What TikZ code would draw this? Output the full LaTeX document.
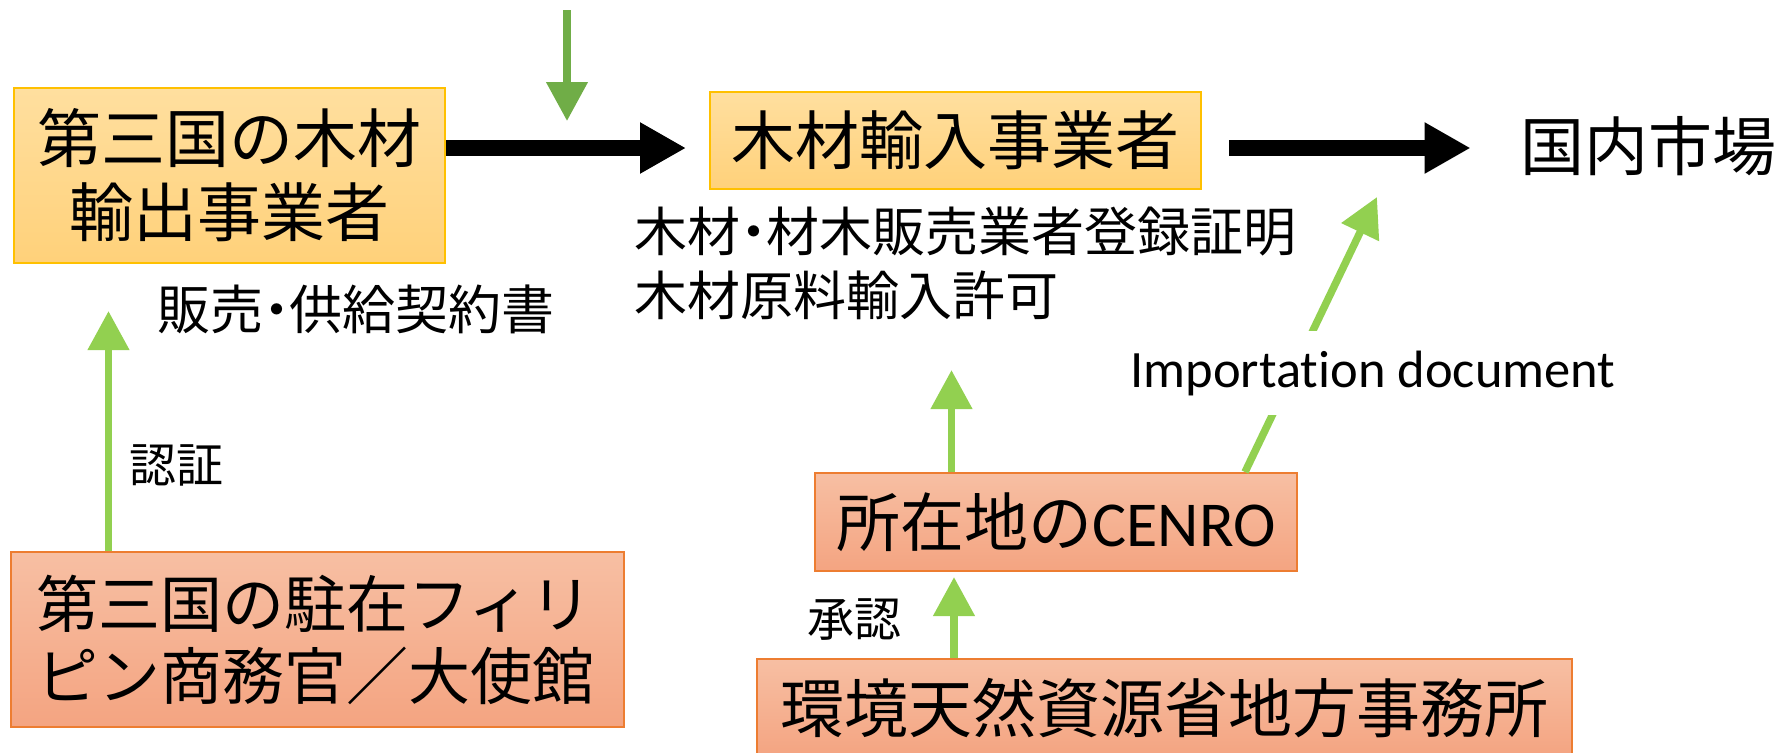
\documentclass[tikz,border=0pt]{standalone}
\usepackage{fontspec}
\setmainfont[Ligatures=NoCommon]{Carlito}
\newfontfamily\cjk{Noto Sans CJK JP}
\newfontfamily\cjkp[RawFeature=+palt]{Noto Sans CJK JP}
\usetikzlibrary{arrows.meta}
\definecolor{ytop}{HTML}{FFDF9F}
\definecolor{ybot}{HTML}{FFD17A}
\definecolor{boxgold}{HTML}{FFC000}
\definecolor{otop}{HTML}{F7BFA3}
\definecolor{obot}{HTML}{F4A481}
\definecolor{boxorange}{HTML}{ED7D31}
\definecolor{lgreen}{HTML}{92D050}
\definecolor{dgreen}{HTML}{70AD47}
\begin{document}
\begin{tikzpicture}[x=0.5pt,y=-0.5pt,
  bigtext/.style={font=\cjk\fontsize{32}{37}\selectfont},
  ybox/.style={draw=boxgold, line width=1pt, top color=ytop, bottom color=ybot, inner sep=0pt},
  obox/.style={draw=boxorange, line width=1pt, top color=otop, bottom color=obot, inner sep=0pt},
  lbl/.style={font=\cjkp\fontsize{26.5}{32}\selectfont, inner sep=0pt, align=left},
  smalllbl/.style={font=\cjk\fontsize{23.5}{28}\selectfont, inner sep=0pt},
  flow/.style={line width=8pt, -{Triangle[length=23pt,width=24pt]}},
  garrow/.style={draw=lgreen, line width=3.75pt, -{Triangle[length=19.5pt,width=20pt]}},
]
\useasboundingbox (0,0) rectangle (1777,752);

% boxes
\node[ybox, bigtext, minimum width=215.5pt, minimum height=87.5pt, align=center] (exporter) at (229.5,175.5) {第三国の木材\\輸出事業者};
\node[ybox, bigtext, minimum width=245.5pt, minimum height=48.5pt] (importer) at (955.5,140.5) {木材輸入事業者};
\node[bigtext, inner sep=0pt] (market) at (1648,146) {国内市場};
\node[obox, font=\cjk\fontsize{31}{36}\selectfont, minimum width=306.5pt, minimum height=87.5pt, inner xsep=12.5pt, text width=281.5pt, align=left] (consul) at (317.5,639.5) {第三国の駐在フィリ\\ピン商務官／大使館};
\node[obox, bigtext, minimum width=241pt, minimum height=49pt] (cenro) at (1056,522) {所在地の{\rmfamily CENRO}};
\node[obox, bigtext, minimum width=407.5pt, minimum height=49pt] (denr) at (1164.5,708) {環境天然資源省地方事務所};

% labels
\node[lbl] (contract) at (356,309) {販売・供給契約書};
\node[lbl, anchor=west] (permits) at (634,263) {木材・材木販売業者登録証明\\木材原料輸入許可};
\node[smalllbl] (certlbl) at (176,465) {認証};
\node[smalllbl] (apprlbl) at (854.5,620) {承認};

% black flow arrows
\coordinate (flowY) at (0,148);
\draw[flow] (exporter.east |- flowY) -- ([xshift=-11.5pt]importer.west |- flowY);
\draw[flow, shorten <=13.5pt, shorten >=24.5pt] (importer.east |- flowY) -- (market.west |- flowY);

% green arrows
\coordinate (topStart) at (567,10);
\coordinate (topTip) at (567,121);
\draw[garrow, draw=dgreen] (topStart) -- (topTip);

\coordinate (certTip) at (108.5,311);
\draw[garrow] (consul.north -| certTip) -- (certTip);

\coordinate (permTip) at (951.5,370);
\draw[garrow] (cenro.north -| permTip) -- (permTip);

\coordinate (apprTip) at (954,577);
\draw[garrow] (denr.north -| apprTip) -- (apprTip);

\coordinate (docBase) at (1245,0);
\coordinate (docTip) at (1377,197);
\draw[garrow] (cenro.north -| docBase) -- (docTip);
\node[font=\fontsize{26.25}{30}\selectfont, fill=white, inner xsep=2pt, inner ysep=0pt, minimum height=42pt] (impdoc) at (1373,373) {Importation document};
\end{tikzpicture}
\end{document}
